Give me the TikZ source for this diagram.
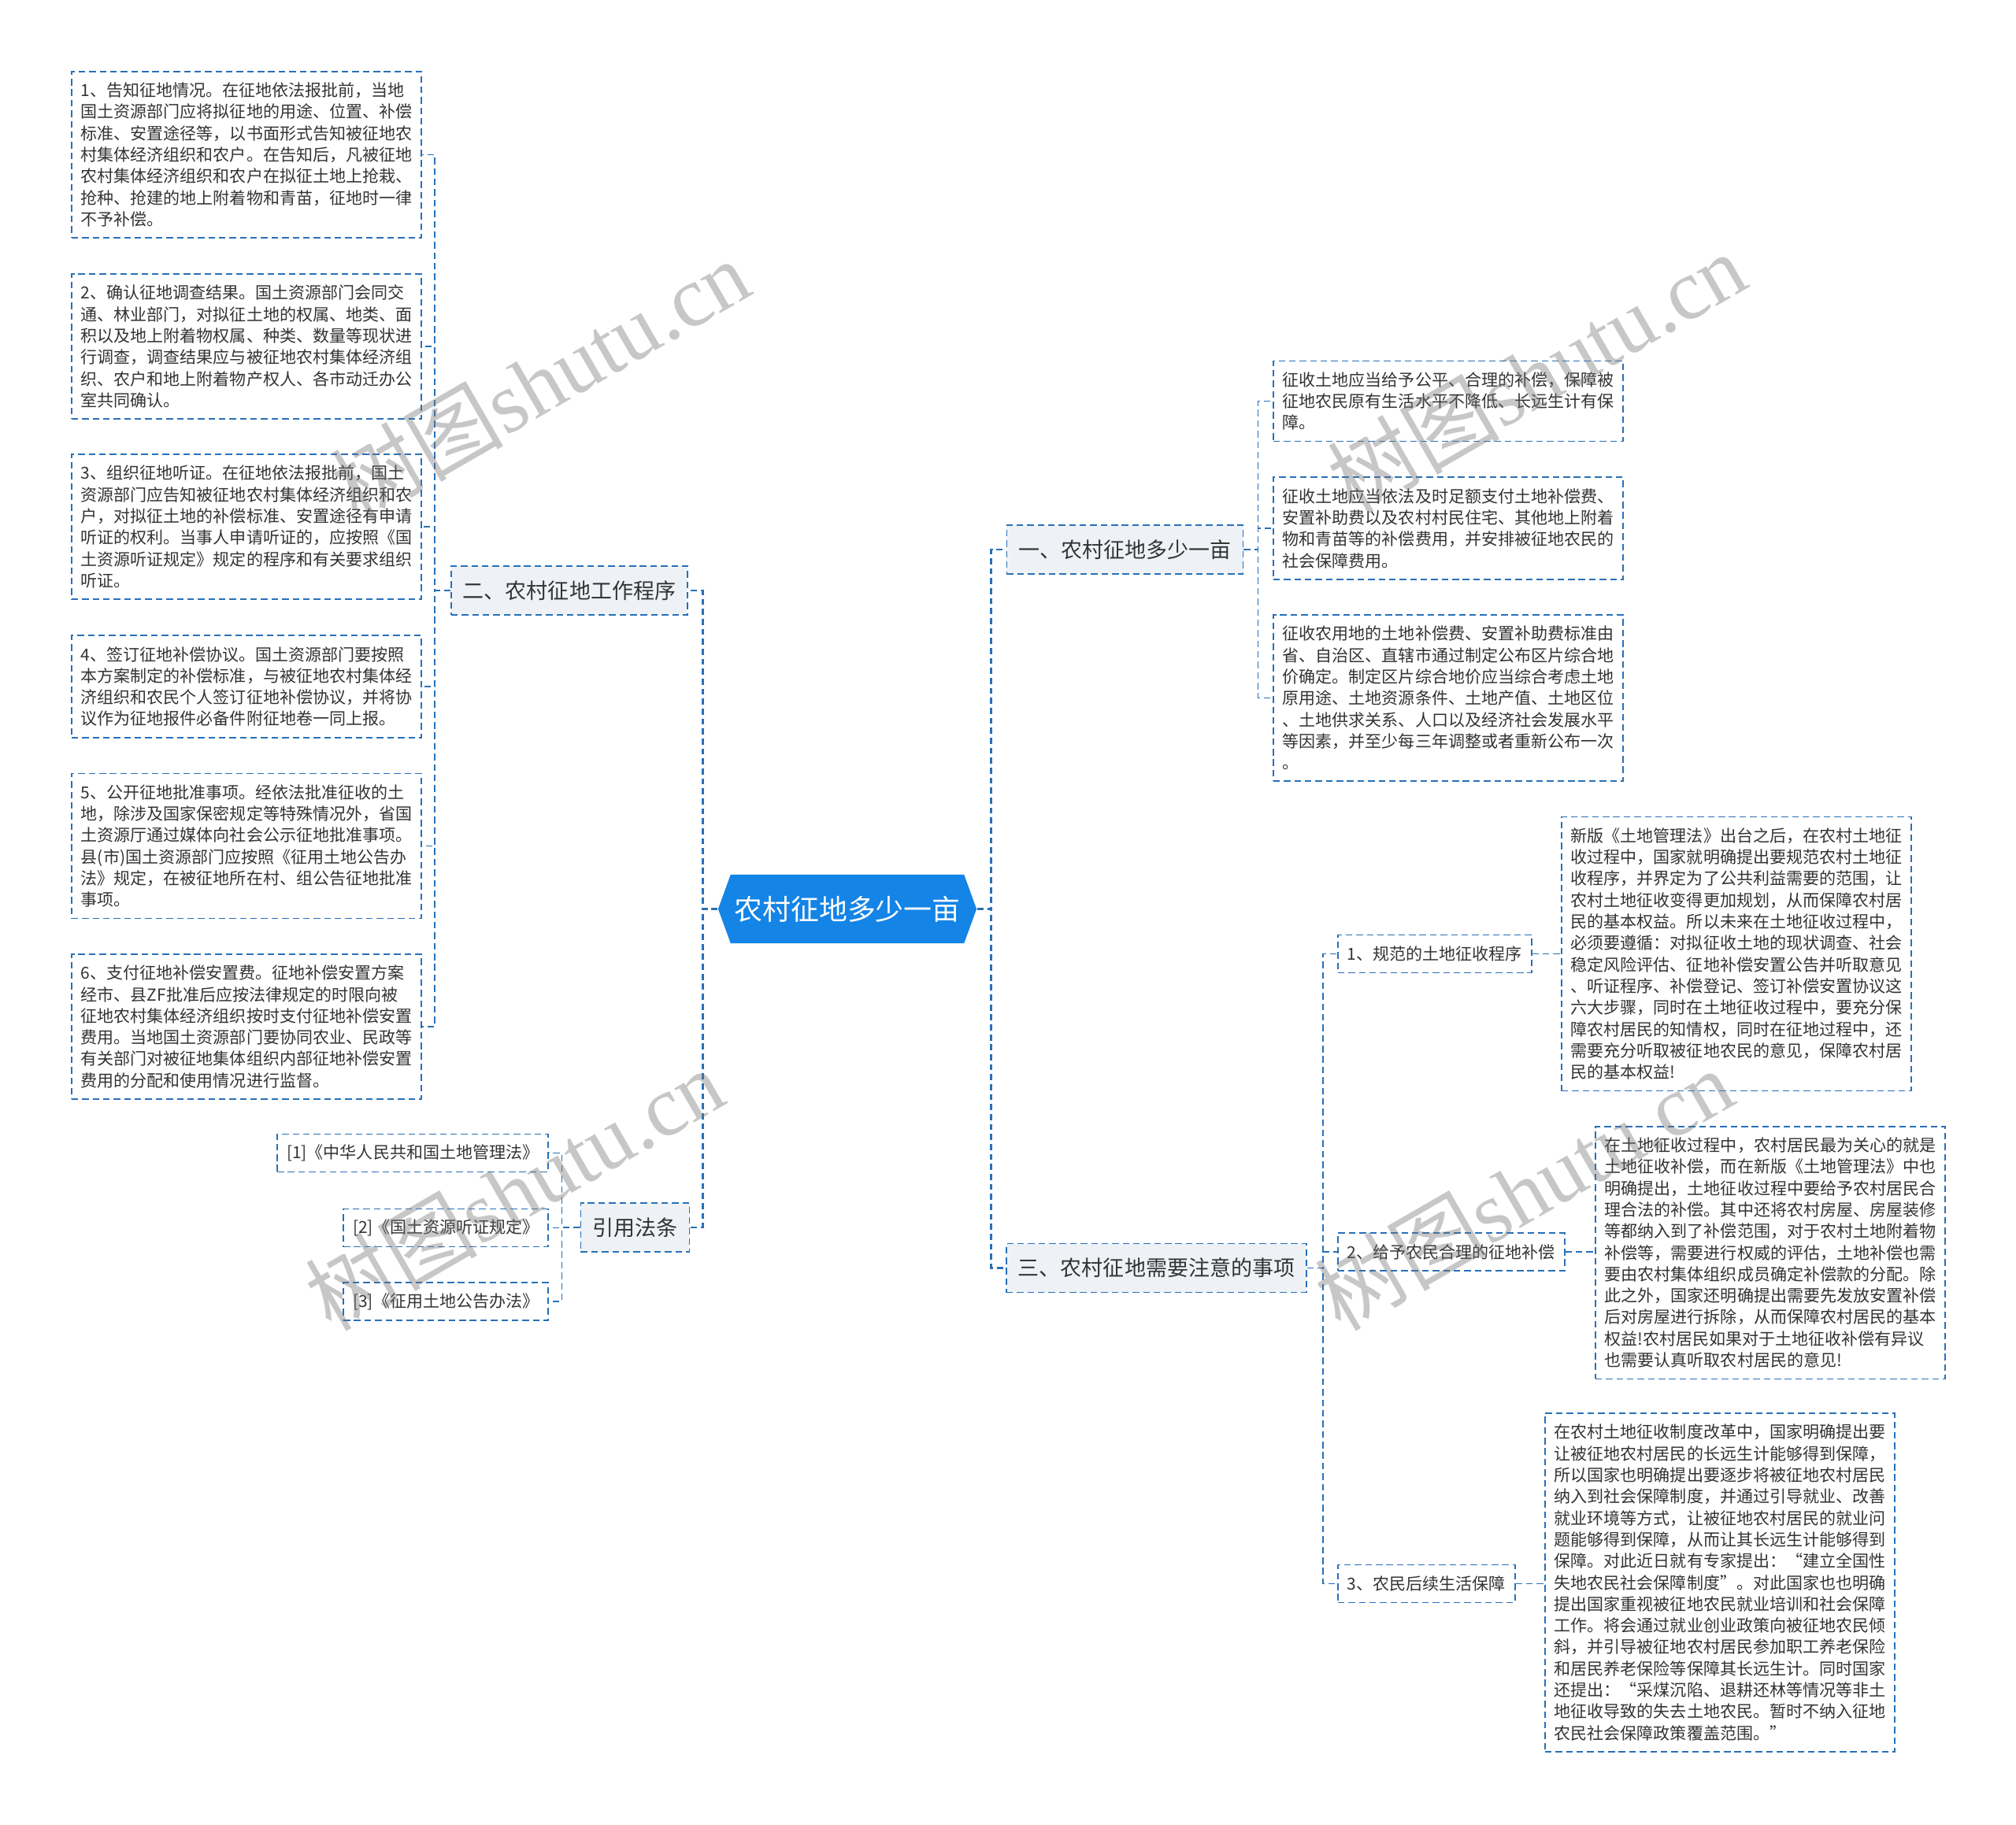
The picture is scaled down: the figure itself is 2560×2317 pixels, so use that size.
\documentclass[tikz,border=0pt]{standalone}
\usepackage{fontspec}
\setmainfont{Noto Sans CJK SC}
\newfontfamily\wmlatin{Liberation Serif}
\usepackage{tikz}
\usetikzlibrary{shapes.symbols}
\definecolor{linkblue}{RGB}{40,112,184}
\definecolor{rootblue}{RGB}{20,132,230}
\definecolor{topicfill}{RGB}{238,242,246}
\definecolor{ink}{RGB}{51,51,51}

\begin{document}
\begin{tikzpicture}[
		x=0.01cm, y=-0.01cm,
		leaf/.style = {rectangle, draw=linkblue, line width=0.5pt, dash pattern=on 2.4pt off 1.4pt, fill=white, text=ink, text width=4.2cm, align=left, inner xsep=0.12cm, inner ysep=0.14cm, font=\fontsize{5.975pt}{7.768pt}\selectfont},
		tag/.style = {rectangle, draw=linkblue, line width=0.5pt, dash pattern=on 2.4pt off 1.4pt, fill=white, text=ink, inner xsep=0.12cm, inner ysep=0pt, minimum height=0.48cm, font=\fontsize{5.975pt}{7.768pt}\selectfont},
		topic/.style = {rectangle, draw=linkblue, line width=0.5pt, dash pattern=on 2.4pt off 1.4pt, fill=topicfill, text=ink, inner xsep=0.15cm, inner ysep=0pt, minimum height=0.62cm, font=\fontsize{7.68pt}{9pt}\selectfont},
		root/.style = {signal, signal to=west and east, signal pointer angle=140, fill=rootblue, text=white, minimum width=3.28cm, minimum height=0.87cm, inner sep=0pt, font=\fontsize{10.2pt}{12pt}\selectfont},
		link/.style = {draw=linkblue, line width=0.5pt, dash pattern=on 2.4pt off 1.4pt},
		mainlink/.style = {draw=linkblue, line width=0.8pt, dash pattern=on 2.2pt off 1.4pt},
		wm/.style = {text=black!55, text opacity=0.4, font=\fontsize{31pt}{31pt}\selectfont, rotate=30}
		]
		\useasboundingbox (0,0) rectangle (2560,2317);

		%Nodes
		\node[root]		(root)	at	(1076, 1154.5)	{农村征地多少一亩};
		\node[topic]	(n2)	at	(723, 750)		{二、农村征地工作程序};
		\node[topic]	(n1)	at	(1428.5, 698)	{一、农村征地多少一亩};
		\node[topic]	(n3)	at	(1468.5, 1610.5)	{三、农村征地需要注意的事项};
		\node[topic]	(ref)	at	(806.5, 1559)	{引用法条};

		\node[leaf, anchor=west]	(l1)	at	(90, 196.5)	{1、告知征地情况。在征地依法报批前，当地\\国土资源部门应将拟征地的用途、位置、补偿\\标准、安置途径等，以书面形式告知被征地农\\村集体经济组织和农户。在告知后，凡被征地\\农村集体经济组织和农户在拟征土地上抢栽、\\抢种、抢建的地上附着物和青苗，征地时一律\\不予补偿。};
		\node[leaf, anchor=west]	(l2)	at	(90, 440)	{2、确认征地调查结果。国土资源部门会同交\\通、林业部门，对拟征土地的权属、地类、面\\积以及地上附着物权属、种类、数量等现状进\\行调查，调查结果应与被征地农村集体经济组\\织、农户和地上附着物产权人、各市动迁办公\\室共同确认。};
		\node[leaf, anchor=west]	(l3)	at	(90, 669)	{3、组织征地听证。在征地依法报批前，国土\\资源部门应告知被征地农村集体经济组织和农\\户，对拟征土地的补偿标准、安置途径有申请\\听证的权利。当事人申请听证的，应按照《国\\土资源听证规定》规定的程序和有关要求组织\\听证。};
		\node[leaf, anchor=west]	(l4)	at	(90, 872)	{4、签订征地补偿协议。国土资源部门要按照\\本方案制定的补偿标准，与被征地农村集体经\\济组织和农民个人签订征地补偿协议，并将协\\议作为征地报件必备件附征地卷一同上报。};
		\node[leaf, anchor=west]	(l5)	at	(90, 1074.5)	{5、公开征地批准事项。经依法批准征收的土\\地，除涉及国家保密规定等特殊情况外，省国\\土资源厅通过媒体向社会公示征地批准事项。\\县(市)国土资源部门应按照《征用土地公告办\\法》规定，在被征地所在村、组公告征地批准\\事项。};
		\node[leaf, anchor=west]	(l6)	at	(90, 1304)	{6、支付征地补偿安置费。征地补偿安置方案\\经市、县ZF批准后应按法律规定的时限向被\\征地农村集体经济组织按时支付征地补偿安置\\费用。当地国土资源部门要协同农业、民政等\\有关部门对被征地集体组织内部征地补偿安置\\费用的分配和使用情况进行监督。};

		\node[leaf, anchor=west]	(d1)	at	(1616, 509.5)	{征收土地应当给予公平、合理的补偿，保障被\\征地农民原有生活水平不降低、长远生计有保\\障。};
		\node[leaf, anchor=west]	(d2)	at	(1616, 671)	{征收土地应当依法及时足额支付土地补偿费、\\安置补助费以及农村村民住宅、其他地上附着\\物和青苗等的补偿费用，并安排被征地农民的\\社会保障费用。};
		\node[leaf, anchor=west]	(d3)	at	(1616, 886.5)	{征收农用地的土地补偿费、安置补助费标准由\\省、自治区、直辖市通过制定公布区片综合地\\价确定。制定区片综合地价应当综合考虑土地\\原用途、土地资源条件、土地产值、土地区位\\、土地供求关系、人口以及经济社会发展水平\\等因素，并至少每三年调整或者重新公布一次\\。};

		\node[tag, anchor=west]	(k1)	at	(1698, 1211.5)	{1、规范的土地征收程序};
		\node[tag, anchor=west]	(k2)	at	(1698, 1590)	{2、给予农民合理的征地补偿};
		\node[tag, anchor=west]	(k3)	at	(1698, 2011.5)	{3、农民后续生活保障};

		\node[leaf, anchor=west]	(e1)	at	(1982, 1211.5)	{新版《土地管理法》出台之后，在农村土地征\\收过程中，国家就明确提出要规范农村土地征\\收程序，并界定为了公共利益需要的范围，让\\农村土地征收变得更加规划，从而保障农村居\\民的基本权益。所以未来在土地征收过程中，\\必须要遵循：对拟征收土地的现状调查、社会\\稳定风险评估、征地补偿安置公告并听取意见\\、听证程序、补偿登记、签订补偿安置协议这\\六大步骤，同时在土地征收过程中，要充分保\\障农村居民的知情权，同时在征地过程中，还\\需要充分听取被征地农民的意见，保障农村居\\民的基本权益!};
		\node[leaf, anchor=west]	(e2)	at	(2025, 1591)	{在土地征收过程中，农村居民最为关心的就是\\土地征收补偿，而在新版《土地管理法》中也\\明确提出，土地征收过程中要给予农村居民合\\理合法的补偿。其中还将农村房屋、房屋装修\\等都纳入到了补偿范围，对于农村土地附着物\\补偿等，需要进行权威的评估，土地补偿也需\\要由农村集体组织成员确定补偿款的分配。除\\此之外，国家还明确提出需要先发放安置补偿\\后对房屋进行拆除，从而保障农村居民的基本\\权益!农村居民如果对于土地征收补偿有异议\\也需要认真听取农村居民的意见!};
		\node[leaf, anchor=west]	(e3)	at	(1961, 2010)	{在农村土地征收制度改革中，国家明确提出要\\让被征地农村居民的长远生计能够得到保障，\\所以国家也明确提出要逐步将被征地农村居民\\纳入到社会保障制度，并通过引导就业、改善\\就业环境等方式，让被征地农村居民的就业问\\题能够得到保障，从而让其长远生计能够得到\\保障。对此近日就有专家提出：“建立全国性\\失地农民社会保障制度”。对此国家也也明确\\提出国家重视被征地农民就业培训和社会保障\\工作。将会通过就业创业政策向被征地农民倾\\斜，并引导被征地农村居民参加职工养老保险\\和居民养老保险等保障其长远生计。同时国家\\还提出：“采煤沉陷、退耕还林等情况等非土\\地征收导致的失去土地农民。暂时不纳入征地\\农民社会保障政策覆盖范围。”};

		\node[tag, anchor=east]	(r1)	at	(697, 1464.5)	{[1]《中华人民共和国土地管理法》};
		\node[tag, anchor=east]	(r2)	at	(697, 1559.5)	{[2]《国土资源听证规定》};
		\node[tag, anchor=east]	(r3)	at	(697, 1653)	{[3]《征用土地公告办法》};

		%Lines
		\draw[mainlink]	(root.west)	--	++(-19, 0)	|-	(n2.east);
		\draw[mainlink]	(root.west)	--	++(-19, 0)	|-	(ref.east);
		\draw[mainlink]	(root.east)	--	++(18, 0)	|-	(n1.west);
		\draw[mainlink]	(root.east)	--	++(18, 0)	|-	(n3.west);

		\draw[link]	(n2.west)	--	++(-20, 0)	|-	(l1.east);
		\draw[link]	(n2.west)	--	++(-20, 0)	|-	(l2.east);
		\draw[link]	(n2.west)	--	++(-20, 0)	|-	(l3.east);
		\draw[link]	(n2.west)	--	++(-20, 0)	|-	(l4.east);
		\draw[link]	(n2.west)	--	++(-20, 0)	|-	(l5.east);
		\draw[link]	(n2.west)	--	++(-20, 0)	|-	(l6.east);

		\draw[link]	(n1.east)	--	++(18, 0)	|-	(d1.west);
		\draw[link]	(n1.east)	--	++(18, 0)	|-	(d2.west);
		\draw[link]	(n1.east)	--	++(18, 0)	|-	(d3.west);

		\draw[link]	(n3.east)	--	++(20, 0)	|-	(k1.west);
		\draw[link]	(n3.east)	--	++(20, 0)	|-	(k2.west);
		\draw[link]	(n3.east)	--	++(20, 0)	|-	(k3.west);
		\draw[link]	(k1.east)	--	(k1.east -| e1.west);
		\draw[link]	(k2.east)	--	(k2.east -| e2.west);
		\draw[link]	(k3.east)	--	(k3.east -| e3.west);

		\draw[link]	(ref.west)	--	++(-23, 0)	|-	(r1.east);
		\draw[link]	(ref.west)	--	++(-23, 0)	|-	(r2.east);
		\draw[link]	(ref.west)	--	++(-23, 0)	|-	(r3.east);

		%Watermarks
		\node[wm]	(wm1)	at	(686, 482)		{树图\wmlatin shutu.cn};
		\node[wm]	(wm2)	at	(1951, 473)	{树图\wmlatin shutu.cn};
		\node[wm]	(wm3)	at	(653, 1510)	{树图\wmlatin shutu.cn};
		\node[wm]	(wm4)	at	(1935, 1510)	{树图\wmlatin shutu.cn};
	\end{tikzpicture}
\end{document}
